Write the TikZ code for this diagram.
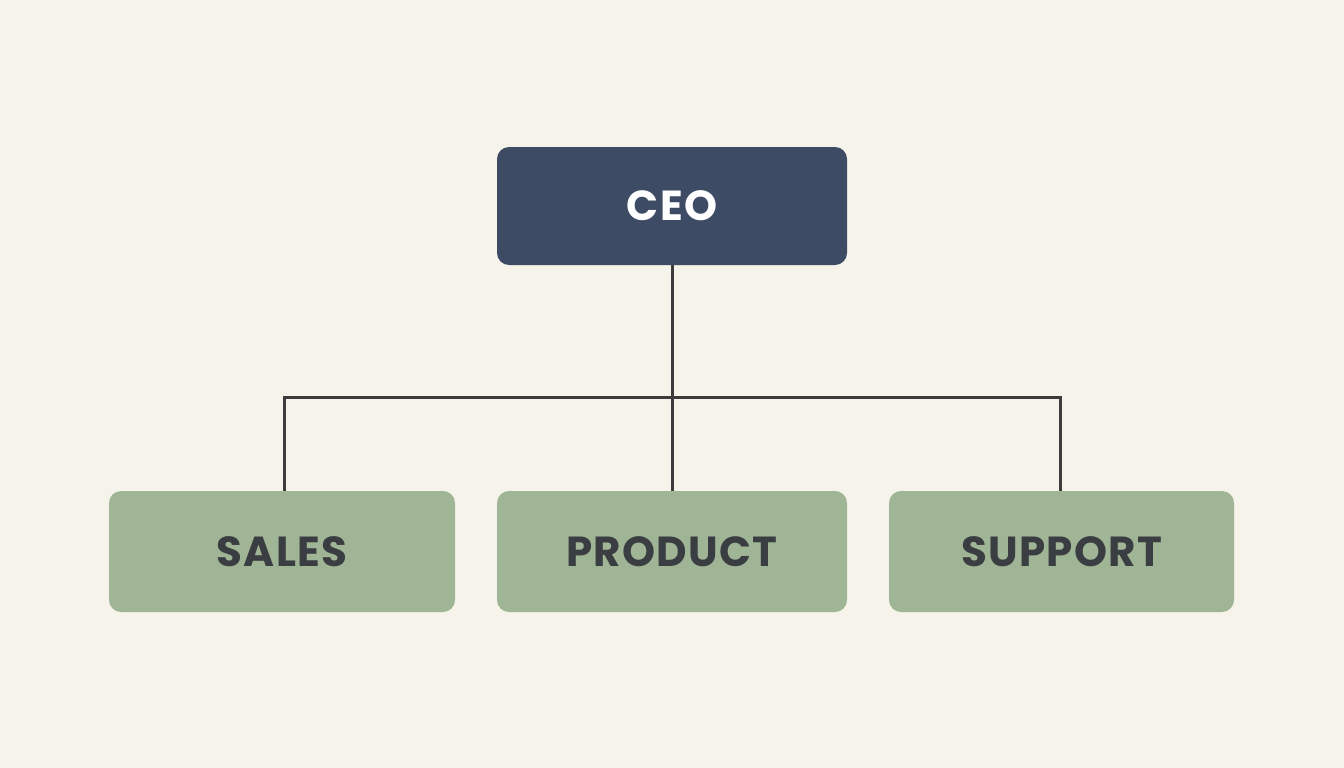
\documentclass[tikz,border=0pt]{standalone}
\usepackage{fontspec}
\setmainfont{Poppins}[LetterSpace=3]
\definecolor{bg}{HTML}{F6F4EA}
\definecolor{ceofill}{HTML}{3D4B64}
\definecolor{deptfill}{HTML}{A0B595}
\definecolor{depttext}{HTML}{3A3D42}
\definecolor{linecol}{HTML}{3C3C3C}
\tikzset{
  box/.style={rounded corners=12pt, inner sep=0pt, font=\fontsize{42}{46}\selectfont\bfseries},
  ceobox/.style={box, fill=ceofill, text=white, minimum width=350pt, minimum height=118pt},
  deptbox/.style={box, fill=deptfill, text=depttext, minimum height=121pt},
  conn/.style={draw=linecol, line width=3pt}
}
\begin{document}
\begin{tikzpicture}[x=1pt,y=-1pt]
\fill[bg] (0,0) rectangle (1344,768);
\useasboundingbox (0,0) rectangle (1344,768);
\node[ceobox] (ceo) at (672,206) {CEO};
\node[deptbox, minimum width=346pt] (sales) at (282,551.5) {SALES};
\node[deptbox, minimum width=350pt] (product) at (672,551.5) {PRODUCT};
\node[deptbox, minimum width=345pt] (support) at (1061.5,551.5) {SUPPORT};
\coordinate (bus) at (672,397);
\draw[conn] (ceo.south) -- (product.north);
\draw[conn] ([xshift=2pt]sales.north) |- (bus) -| ([xshift=-1.5pt]support.north);
\end{tikzpicture}
\end{document}
